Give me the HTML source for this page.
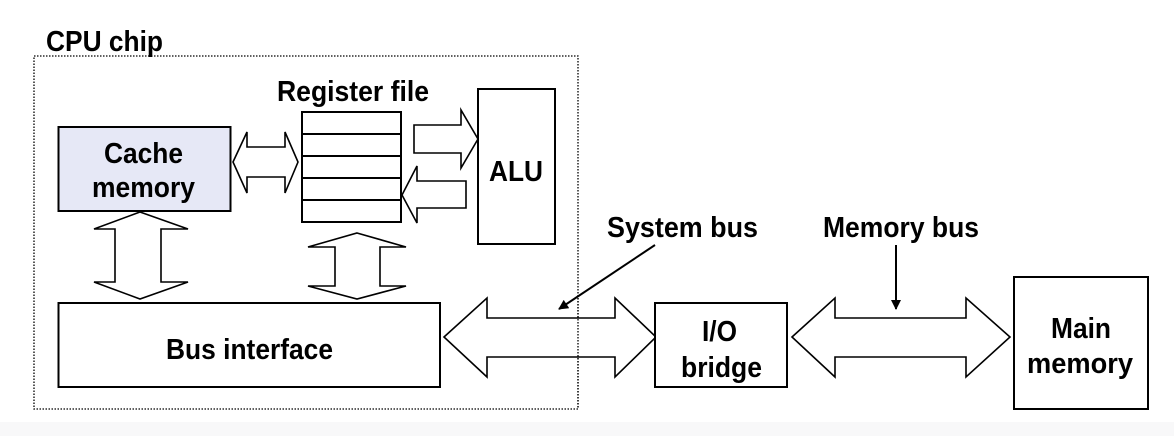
<!DOCTYPE html>
<html><head><meta charset="utf-8"><style>
html,body{margin:0;padding:0;background:#fff}
svg{display:block}
text{font-family:"Liberation Sans",Arial,sans-serif;font-weight:bold;font-size:29px;fill:#000}
</style></head><body>
<svg width="1174" height="436" viewBox="0 0 1174 436" xmlns="http://www.w3.org/2000/svg">
<rect x="0" y="0" width="1174" height="436" fill="#fff"/>
<rect x="0" y="422" width="1174" height="14" fill="#f8f8f9"/>
<defs><marker id="ah" markerWidth="10" markerHeight="10" refX="9" refY="5" orient="auto" markerUnits="userSpaceOnUse"><path d="M0,0 L10,5 L0,10 z" fill="#000"/></marker></defs>

<text x="46" y="51" textLength="117" lengthAdjust="spacingAndGlyphs">CPU chip</text>
<rect x="34" y="56" width="544" height="353" fill="none" stroke="#000" stroke-width="1.3" stroke-dasharray="1.5,1.5"/>

<text x="277" y="101" textLength="152" lengthAdjust="spacingAndGlyphs">Register file</text>

<rect x="58.5" y="127" width="172" height="84" fill="#e6e8f6" stroke="#000" stroke-width="2"/>
<text x="104" y="163" textLength="79" lengthAdjust="spacingAndGlyphs">Cache</text>
<text x="92" y="197" textLength="103" lengthAdjust="spacingAndGlyphs">memory</text>

<rect x="302" y="112" width="99" height="110" fill="#fff" stroke="#000" stroke-width="2"/>
<g stroke="#000" stroke-width="2"><line x1="302" y1="134" x2="401" y2="134"/><line x1="302" y1="156" x2="401" y2="156"/><line x1="302" y1="178" x2="401" y2="178"/><line x1="302" y1="200" x2="401" y2="200"/></g>

<rect x="478" y="89" width="77" height="155" fill="#fff" stroke="#000" stroke-width="2"/>
<text x="489" y="181" textLength="54" lengthAdjust="spacingAndGlyphs">ALU</text>

<g fill="#fff" stroke="#000" stroke-width="1.6" stroke-linejoin="miter">
<path d="M233,162 L247,132 L247,147 L285,147 L285,132 L298,162 L285,193 L285,177 L247,177 L247,193 Z"/>
<path d="M414,125 L461,125 L461,110 L478,139 L461,168 L461,153 L414,153 Z"/>
<path d="M466,181 L417,181 L417,166 L402,195 L417,223 L417,208 L466,208 Z"/>
<path d="M140,212 L188,229 L161,229 L161,282 L188,282 L140,299 L94,282 L115,282 L115,229 L94,229 Z"/>
<path d="M357,233 L406,247 L380,247 L380,286 L406,286 L357,299 L308,286 L335,286 L335,247 L308,247 Z"/>
<path d="M444,337 L487,298 L487,318 L615,318 L615,298 L656,337 L615,377 L615,357 L487,357 L487,377 Z"/>
<path d="M792,337 L835,298 L835,318 L966,318 L966,298 L1010,337 L966,377 L966,357 L835,357 L835,377 Z"/>
</g>

<rect x="58.5" y="303" width="381.5" height="84" fill="#fff" stroke="#000" stroke-width="2"/>
<text x="166" y="359" textLength="167" lengthAdjust="spacingAndGlyphs">Bus interface</text>

<line x1="578" y1="298" x2="578" y2="409" stroke="#000" stroke-width="1.3" stroke-dasharray="1.5,1.5"/>

<text x="607" y="237" textLength="151" lengthAdjust="spacingAndGlyphs">System bus</text>
<line x1="655" y1="245" x2="559" y2="309" stroke="#000" stroke-width="2" marker-end="url(#ah)"/>

<text x="823" y="237" textLength="156" lengthAdjust="spacingAndGlyphs">Memory bus</text>
<line x1="896" y1="245" x2="896" y2="309" stroke="#000" stroke-width="2" marker-end="url(#ah)"/>

<rect x="655" y="303" width="132" height="84" fill="#fff" stroke="#000" stroke-width="2"/>
<text x="702" y="341" textLength="35" lengthAdjust="spacingAndGlyphs">I/O</text>
<text x="681" y="377" textLength="81" lengthAdjust="spacingAndGlyphs">bridge</text>

<rect x="1014" y="277" width="134" height="132" fill="#fff" stroke="#000" stroke-width="2"/>
<text x="1051" y="338" textLength="60" lengthAdjust="spacingAndGlyphs">Main</text>
<text x="1027" y="373" textLength="106" lengthAdjust="spacingAndGlyphs">memory</text>
</svg>
</body></html>
